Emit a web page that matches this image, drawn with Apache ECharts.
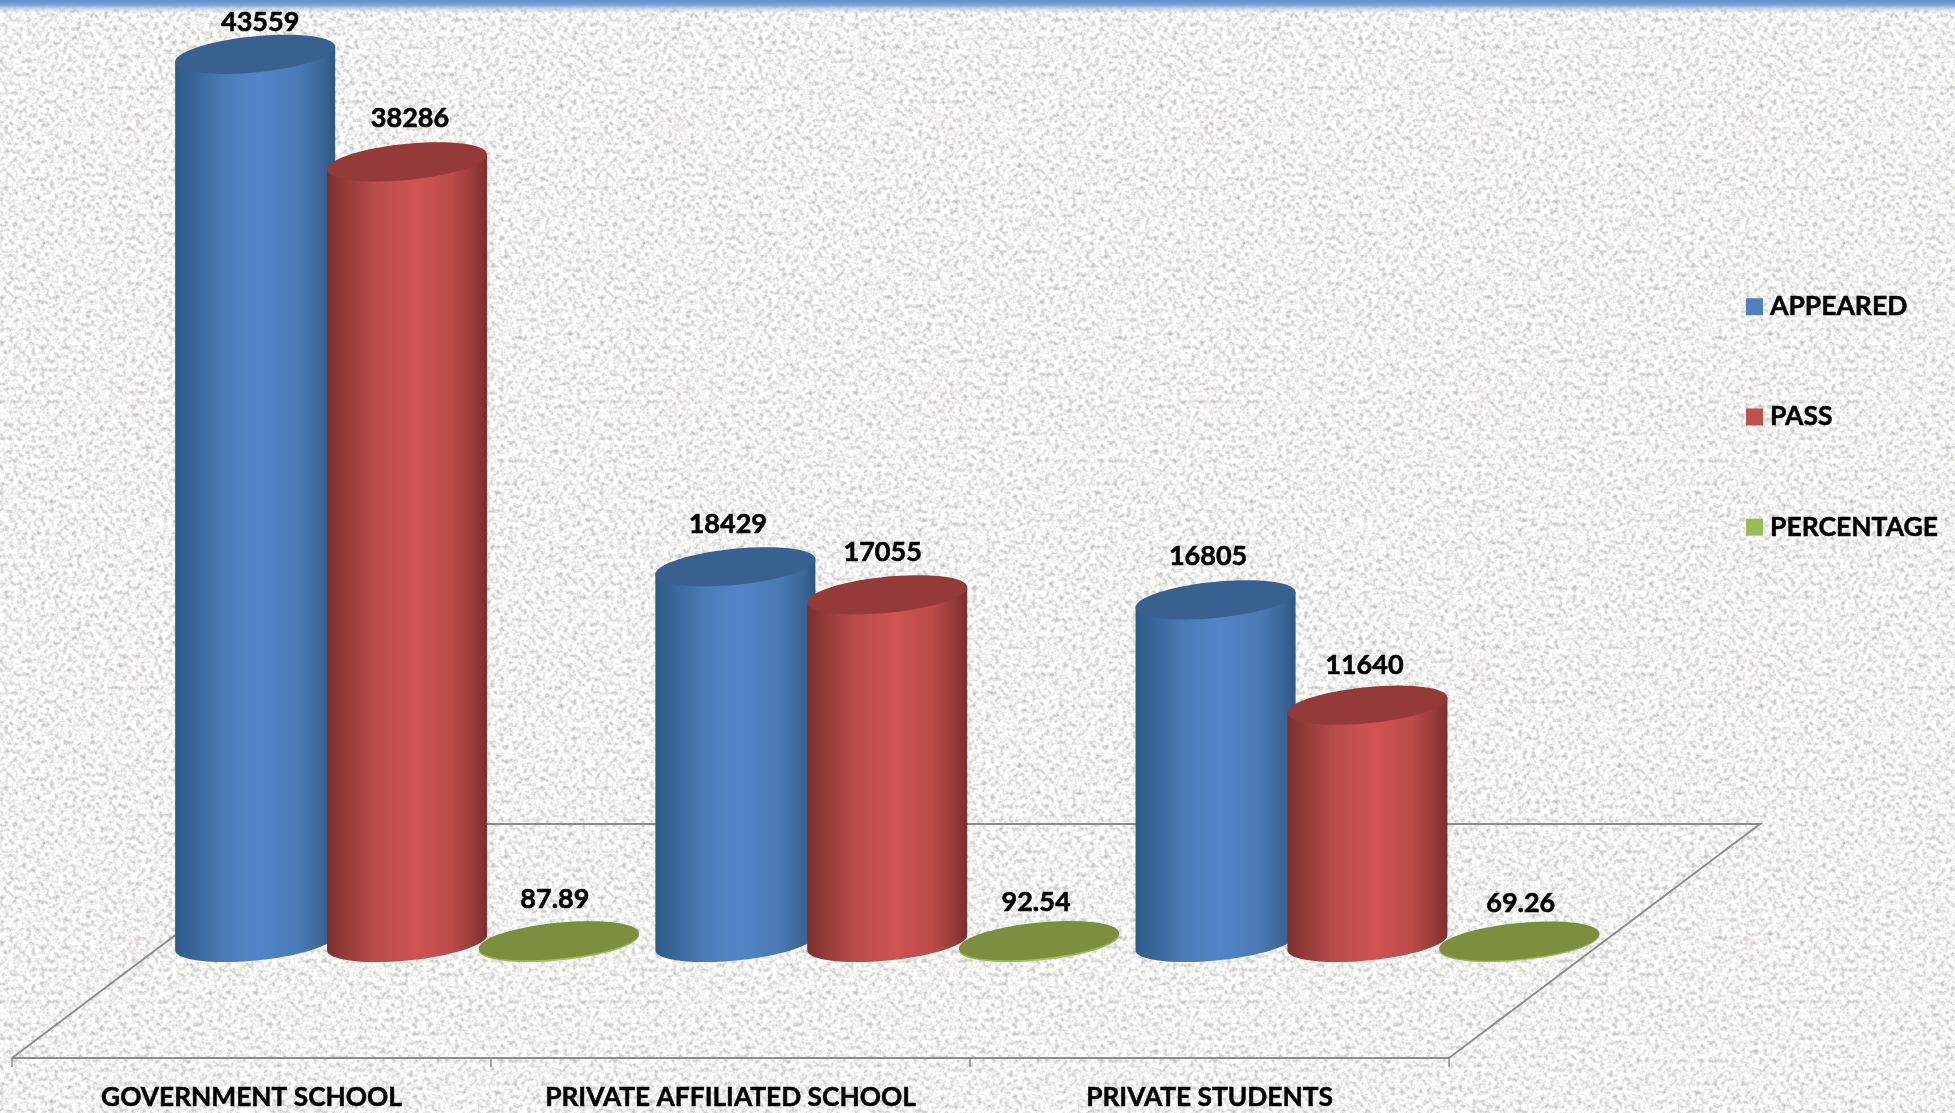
<!DOCTYPE html>
<html>
<head>
<meta charset="utf-8">
<style>
html,body{margin:0;padding:0;width:1955px;height:1113px;overflow:hidden;background-color:#efefec;}
#paper{position:absolute;left:0;top:0;width:1955px;height:1113px;
background-image:linear-gradient(#5f8fc9 0,#7ba3d6 5px,rgba(170,195,228,.75) 8px,rgba(255,255,255,0) 13px),
url("data:image/svg+xml,%3Csvg xmlns='http://www.w3.org/2000/svg' width='269' height='274'%3E%3Cg fill='none' stroke='%23d9a9a9' stroke-opacity='.1' stroke-width='2.5'%3E%3Cpath d='M118 118h38M122 128h30M137 112v36M128 140l-8 10M146 140l8 10'/%3E%3C/g%3E%3C/svg%3E"),
url("data:image/svg+xml,%3Csvg xmlns='http://www.w3.org/2000/svg' width='600' height='600'%3E%3Cfilter id='n' x='0' y='0' width='100%25' height='100%25' color-interpolation-filters='sRGB'%3E%3CfeTurbulence type='fractalNoise' baseFrequency='.22' numOctaves='3' seed='7' stitchTiles='stitch'/%3E%3CfeColorMatrix values='.56 0 0 0 .67 .56 0 0 0 .67 .56 0 0 0 .66 0 0 0 0 1'/%3E%3CfeGaussianBlur stdDeviation='.7'/%3E%3C/filter%3E%3Crect width='600' height='600' filter='url(%23n)'/%3E%3C/svg%3E");
background-repeat:no-repeat,repeat,repeat;}
#main{position:absolute;left:0;top:0;width:1955px;height:1113px;}
</style>
<script src="https://cdn.jsdelivr.net/npm/echarts@6/dist/echarts.min.js"></script>
</head>
<body>
<div id="paper"></div>
<div id="main"></div>
<script>
const categories = ['GOVERNMENT SCHOOL', 'PRIVATE AFFILIATED SCHOOL', 'PRIVATE STUDENTS'];
const appeared = [43559, 18429, 16805];
const pass = [38286, 17055, 11640];
const percentage = [87.89, 92.54, 69.26];

// Drawing constants for the pseudo-3D look
const FONT = 'Lato, "Open Sans", sans-serif';
const DEPTH_X = 311, DEPTH_Y = 234;       // floor skew, px
const ROW_X = DEPTH_X / 2, ROW_Y = 115.5; // where the row of cylinders stands on the floor
const SPREAD = 1.2;                       // extra per-category spacing from the perspective
const A = 80.4, B = 18, TILT = 5.66 * Math.PI / 180;
const T0 = Math.atan2(B * Math.sin(TILT), A * Math.cos(TILT));
const SLOT = 0.317;                        // series spacing as a share of the band

function ell(cx, cy, t) {
  return [
    cx + A * Math.cos(t) * Math.cos(TILT) + B * Math.sin(t) * Math.sin(TILT),
    cy - A * Math.cos(t) * Math.sin(TILT) + B * Math.sin(t) * Math.cos(TILT)
  ];
}
function hGrad(stops) {
  return {type: 'linear', x: 0, y: 0, x2: 1, y2: 0,
    colorStops: stops.map(s => ({offset: s[0], color: s[1]}))};
}
function cylinder(slot, side, cap, nudges) {
  return function (params, api) {
    const i = api.value(0), v = api.value(1);
    const band = api.size([1, 0])[0];
    const top = api.coord([i, v]), base = api.coord([i, 0]);
    const cx = base[0] + ROW_X + slot * SLOT * band + i * SPREAD;
    const by = base[1] - ROW_Y, ty = top[1] - ROW_Y;
    const body = [ell(cx, ty, T0)];
    for (let k = 0; k <= 48; k++) body.push(ell(cx, by, T0 + Math.PI * k / 48));
    body.push(ell(cx, ty, T0 + Math.PI));
    const face = [];
    for (let k = 0; k < 96; k++) face.push(ell(cx, ty, Math.PI * 2 * k / 96));
    const n = nudges[i];
    return {type: 'group', children: [
      {type: 'polygon', shape: {points: body}, style: {fill: hGrad(side)}},
      {type: 'polygon', shape: {points: face}, style: {fill: cap}},
      {type: 'text', style: {text: String(v), x: cx + n[0], y: ty + n[1],
        align: 'center', verticalAlign: 'middle', fill: '#000',
        stroke: '#000', lineWidth: 0.6,
        font: 'bold 27px ' + FONT}}
    ]};
  };
}
function rows(values) { return values.map((v, i) => [i, v]); }

const blueSide = [[0,'#2f5a8c'],[.12,'#3a6699'],[.3,'#4a7bb6'],[.52,'#5286c9'],[.78,'#4a7ab5'],[.93,'#3a6595'],[1,'#2e5683']];
const redSide = [[0,'#7c302e'],[.12,'#973c3a'],[.3,'#b84d4a'],[.55,'#cf5452'],[.78,'#bb4c4a'],[.93,'#933a38'],[1,'#763030']];
const greenSide = [[0,'#8fb148'],[.5,'#a2c45c'],[1,'#8fb148']];

const chart = echarts.init(document.getElementById('main'), null, {renderer: 'canvas'});
chart.setOption({
  animation: false,
  legend: {
    orient: 'vertical', left: 1746, top: 293, padding: 0, itemWidth: 17, itemHeight: 17, itemGap: 82.7,
    icon: 'rect', selectedMode: false,
    data: ['APPEARED', 'PASS', 'PERCENTAGE'],
    textStyle: {color: '#000', fontFamily: FONT, fontWeight: 'bold', fontSize: 26.5,
      textBorderColor: '#000', textBorderWidth: 0.5, padding: [0, 0, 0, 2]}
  },
  grid: {left: 12, width: 1437, top: 38.5, height: 1019.5},
  xAxis: {
    type: 'category', data: categories,
    axisLine: {lineStyle: {color: '#8c8c8c', width: 2}},
    axisTick: {show: true, length: 9, lineStyle: {color: '#8c8c8c', width: 1.5}},
    axisLabel: {color: '#000', fontFamily: FONT, fontWeight: 'bold', fontSize: 26.3, margin: 27, interval: 0,
      textBorderColor: '#000', textBorderWidth: 0.5}
  },
  yAxis: {type: 'value', min: 0, max: 50000, show: false},
  series: [
    {
      type: 'custom', name: 'floor', silent: true, z: 1, data: [[0, 0]],
      renderItem: function (params, api) {
        const cs = params.coordSys;
        const x0 = cs.x, x1 = cs.x + cs.width, y = cs.y + cs.height;
        return {type: 'polyline', shape: {points: [
          [x0, y], [x0 + DEPTH_X, y - DEPTH_Y], [x1 + DEPTH_X, y - DEPTH_Y], [x1, y]
        ]}, style: {fill: null, stroke: '#8c8c8c', lineWidth: 2}};
      }
    },
    {type: 'custom', name: 'APPEARED', z: 2, itemStyle: {color: '#4F81BD'}, data: rows(appeared),
      renderItem: cylinder(-1, blueSide, '#38618f', [[5, -32], [-7.5, -42], [-7.5, -44]])},
    {type: 'custom', name: 'PASS', z: 3, itemStyle: {color: '#C0504D'}, data: rows(pass),
      renderItem: cylinder(0, redSide, '#943a38', [[3, -44], [-4.5, -42], [-3, -40]])},
    {type: 'custom', name: 'PERCENTAGE', z: 4, itemStyle: {color: '#9BBB59'}, data: rows(percentage),
      renderItem: cylinder(1, greenSide, '#7b8f3f', [[-4, -41], [-3, -38], [1.5, -38]])}
  ]
});
</script>
</body>
</html>
